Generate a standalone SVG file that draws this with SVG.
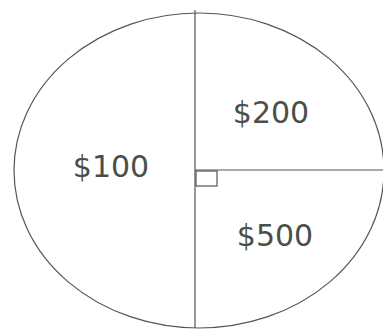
<svg xmlns="http://www.w3.org/2000/svg" width="383" height="330" viewBox="0 0 383 330">
<style>
.ln{fill:none;stroke:#555;stroke-width:1.2}
.lb{font-family:"DejaVu Sans",Verdana,sans-serif;font-size:30px;fill:#4a4f4a}
</style>
<rect width="383" height="330" fill="#fff"/>
<g id="ellipse"><ellipse class="ln" cx="199" cy="170.5" rx="185" ry="157.5"/></g>
<g id="connectors">
<line class="ln" x1="195" y1="10" x2="195" y2="328"/>
<line class="ln" x1="195" y1="170" x2="383" y2="170"/>
<rect class="ln" x="196" y="171" width="21" height="15"/>
</g>
<g id="n100"><text class="lb" x="111" y="177" text-anchor="middle">$100</text></g>
<g id="n200"><text class="lb" x="271" y="123" text-anchor="middle">$200</text></g>
<g id="n500"><text class="lb" x="275" y="246" text-anchor="middle">$500</text></g>
</svg>
